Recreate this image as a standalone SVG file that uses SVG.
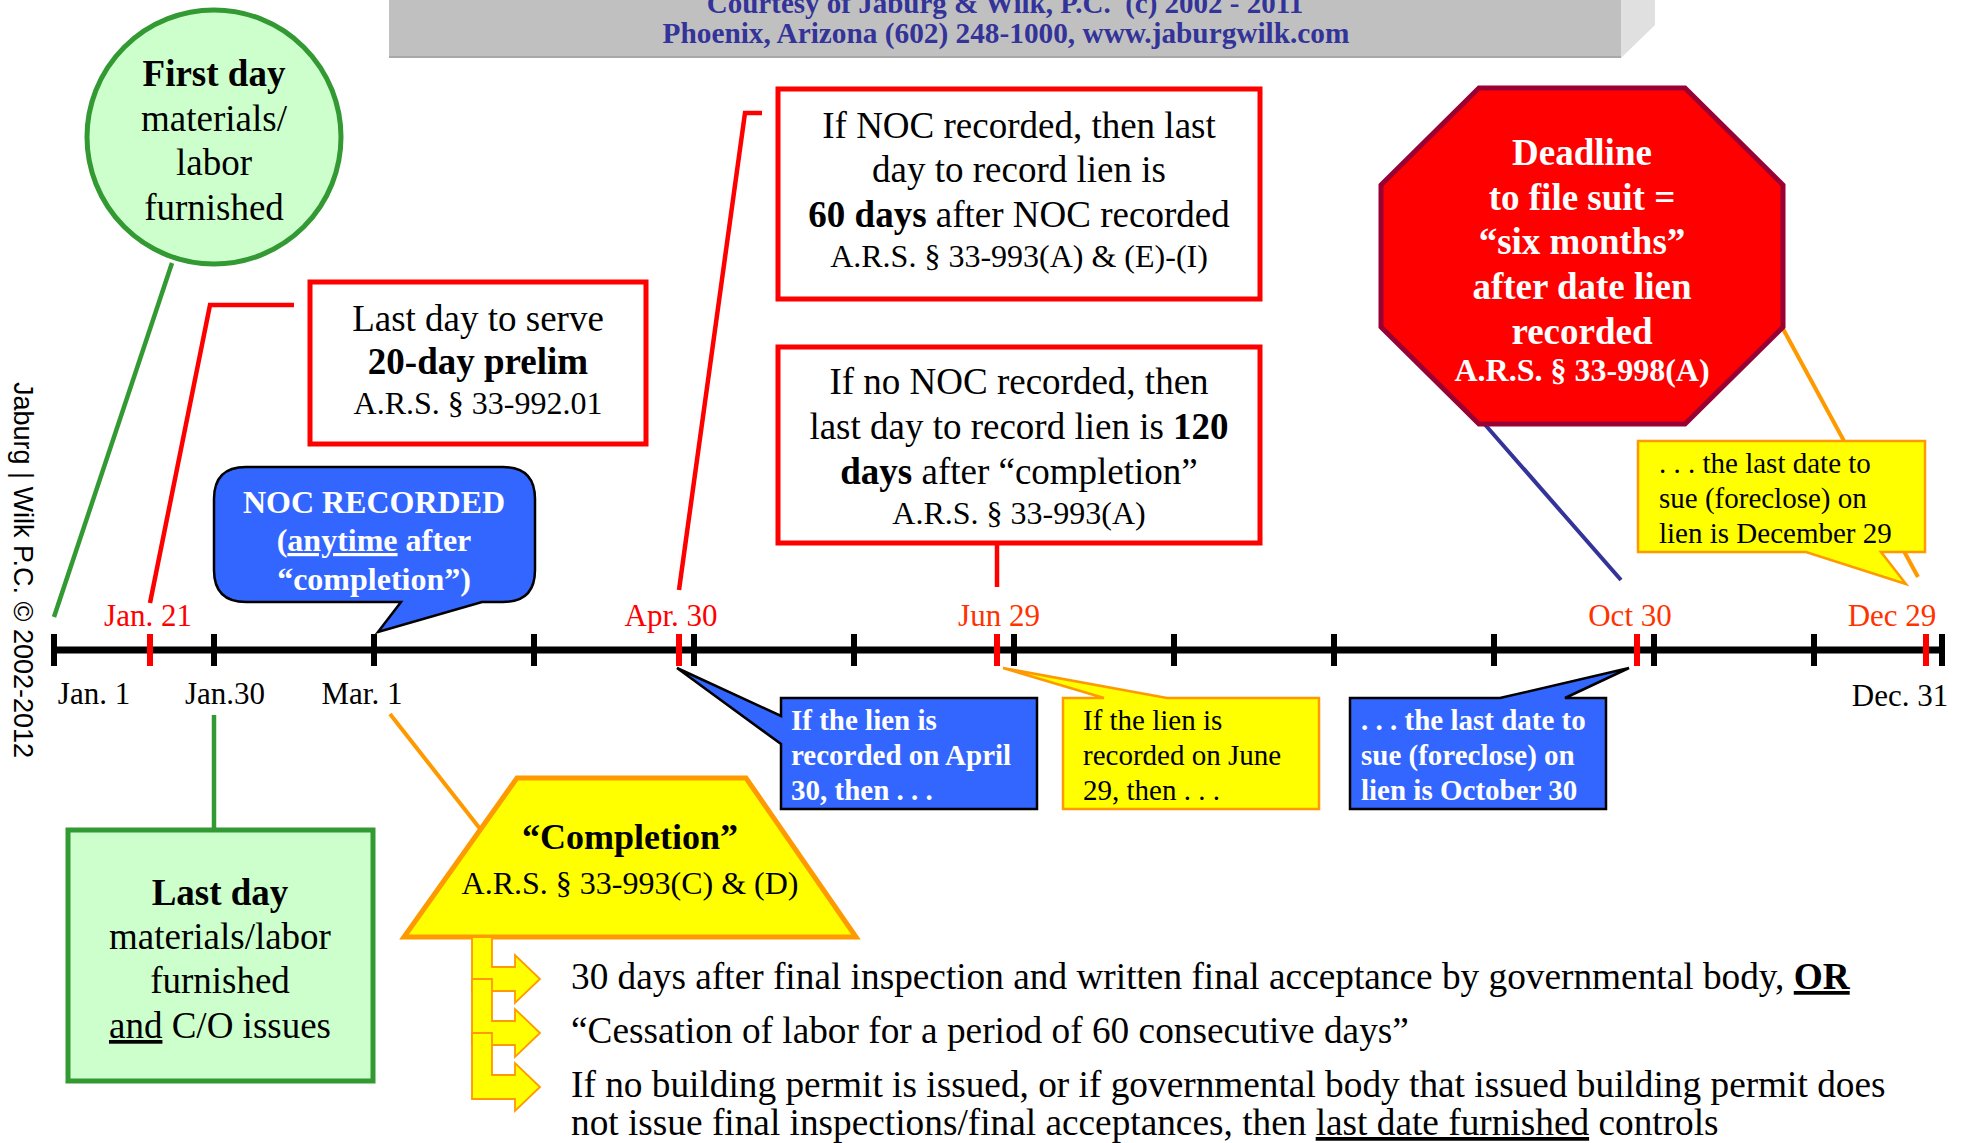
<svg xmlns="http://www.w3.org/2000/svg" width="1967" height="1143" viewBox="0 0 1967 1143">
<style>
text{font-family:"Liberation Serif","Times New Roman",serif;fill:#000}
.b{font-weight:bold}
.w{fill:#fff}
.c{text-anchor:middle}
.f37{font-size:37px}
.f36{font-size:36px}
.f32{font-size:32px}
.f31{font-size:31px}
.f29{font-size:29px}
.item{font-size:37.3px}
.hdr{font-size:29px;font-weight:bold;fill:#333399;text-anchor:middle}
.red{fill:#ff0000}
.red2{fill:#ff3300}
.u{text-decoration:underline}
.redbox{fill:#fff;stroke:#ff0000;stroke-width:5}
.greenbox{fill:#ccffcc;stroke:#339933;stroke-width:5}
.blueco{fill:#3366ff;stroke:#000;stroke-width:2.5;stroke-linejoin:miter}
.yelco{fill:#ffff00;stroke:#ff9900;stroke-width:2.5}
.tick{stroke:#000;stroke-width:6}
.rtick{stroke:#ff0000;stroke-width:6}
.arrow{fill:#ffff00;stroke:#ff9900;stroke-width:1.8}
</style>

<g id="header">
<rect x="389" y="-5" width="1232" height="63" fill="#c0c0c0"/>
<line x1="389" y1="57" x2="1621" y2="57" stroke="#a8a8a8" stroke-width="2"/>
<polygon points="1621,0 1655,0 1655,25 1621,58" fill="#e0e0e0"/>
<text class="hdr" x="1005" y="13">Courtesy of Jaburg &amp; Wilk, P.C.&#160; (c) 2002 - 2011</text>
<text class="hdr" x="1006" y="43" style="font-size:29.3px">Phoenix, Arizona (602) 248-1000, www.jaburgwilk.com</text>
</g>

<g id="watermark">
<text x="14" y="570" transform="rotate(90 14 570)" style="font-family:'Liberation Sans',Arial,sans-serif;font-size:27px" text-anchor="middle">Jaburg | Wilk P.C. © 2002-2012</text>
</g>

<g id="connectors" fill="none">
<line x1="172" y1="263" x2="54" y2="617" stroke="#339933" stroke-width="4.5"/>
<polyline points="150,603 210,305 294,305" stroke="#ff0000" stroke-width="4.5"/>
<polyline points="679,590 745,113 762,113" stroke="#ff0000" stroke-width="4.5"/>
<line x1="997" y1="543" x2="997" y2="587" stroke="#ff0000" stroke-width="4.5"/>
<line x1="1481" y1="420" x2="1621" y2="580" stroke="#333399" stroke-width="4"/>
<line x1="1782" y1="327" x2="1918" y2="577" stroke="#ff9900" stroke-width="4"/>
<line x1="390" y1="714" x2="481" y2="830" stroke="#ff9900" stroke-width="4"/>
<line x1="214" y1="715" x2="214" y2="830" stroke="#339933" stroke-width="4.5"/>
</g>

<g id="first-day">
<circle cx="214" cy="137" r="127" fill="#ccffcc" stroke="#339933" stroke-width="5"/>
<text class="c f37 b" x="214" y="86">First day</text>
<text class="c f37" x="214" y="131">materials/</text>
<text class="c f37" x="214" y="175">labor</text>
<text class="c f37" x="214" y="220">furnished</text>
</g>

<g id="prelim">
<rect class="redbox" x="310" y="282" width="336" height="162"/>
<text class="c f37" x="478" y="331">Last day to serve</text>
<text class="c f37 b" x="478" y="374">20-day prelim</text>
<text class="c f32" x="478" y="414">A.R.S. § 33-992.01</text>
</g>

<g id="noc-recorded">
<rect class="redbox" x="778" y="89" width="482" height="210"/>
<text class="c f37" x="1019" y="138">If NOC recorded, then last</text>
<text class="c f37" x="1019" y="182">day to record lien is</text>
<text class="c f37" x="1019" y="227"><tspan class="b">60 days</tspan> after NOC recorded</text>
<text class="c f32" x="1019" y="267">A.R.S. § 33-993(A) &amp; (E)-(I)</text>
</g>

<g id="no-noc">
<rect class="redbox" x="778" y="347" width="482" height="196"/>
<text class="c f37" x="1019" y="394">If no NOC recorded, then</text>
<text class="c f37" x="1019" y="439">last day to record lien is <tspan class="b">120</tspan></text>
<text class="c f37" x="1019" y="484"><tspan class="b">days</tspan> after “completion”</text>
<text class="c f32" x="1019" y="524">A.R.S. § 33-993(A)</text>
</g>

<g id="deadline">
<polygon points="1479,88 1685,88 1783,185 1783,327 1685,424 1479,424 1381,327 1381,185" fill="#ff0000" stroke="#990033" stroke-width="5"/>
<text class="c f37 b w" x="1582" y="165">Deadline</text>
<text class="c f37 b w" x="1582" y="210">to file suit =</text>
<text class="c f37 b w" x="1582" y="254">“six months”</text>
<text class="c f37 b w" x="1582" y="299">after date lien</text>
<text class="c f37 b w" x="1582" y="344">recorded</text>
<text class="c f32 b w" x="1582" y="381">A.R.S. § 33-998(A)</text>
</g>

<g id="callout-dec29">
<path class="yelco" d="M1638,441 H1925 V552 H1881 L1906,584 L1806,552 H1638 Z"/>
<text class="f29" x="1659" y="473">. . . the last date to</text>
<text class="f29" x="1659" y="508">sue (foreclose) on</text>
<text class="f29" x="1659" y="543">lien is December 29</text>
</g>

<g id="noc-bubble">
<path class="blueco" d="M246,467 H503 Q535,467 535,499 V570 Q535,602 503,602 H482 L378,632 L401,602 H246 Q214,602 214,570 V499 Q214,467 246,467 Z"/>
<text class="c f32 b w" x="374" y="513">NOC RECORDED</text>
<text class="c f32 b w" x="374" y="551">(<tspan class="u">anytime</tspan> after</text>
<text class="c f32 b w" x="374" y="590">“completion”)</text>
</g>

<g id="timeline">
<line x1="53" y1="650" x2="1945" y2="650" stroke="#000" stroke-width="7"/>
<line class="tick" x1="54" y1="634" x2="54" y2="666"/>
<line class="tick" x1="214" y1="634" x2="214" y2="666"/>
<line class="tick" x1="374" y1="634" x2="374" y2="666"/>
<line class="tick" x1="534" y1="634" x2="534" y2="666"/>
<line class="tick" x1="694" y1="634" x2="694" y2="666"/>
<line class="tick" x1="854" y1="634" x2="854" y2="666"/>
<line class="tick" x1="1014" y1="634" x2="1014" y2="666"/>
<line class="tick" x1="1174" y1="634" x2="1174" y2="666"/>
<line class="tick" x1="1334" y1="634" x2="1334" y2="666"/>
<line class="tick" x1="1494" y1="634" x2="1494" y2="666"/>
<line class="tick" x1="1654" y1="634" x2="1654" y2="666"/>
<line class="tick" x1="1814" y1="634" x2="1814" y2="666"/>
<line class="tick" x1="1942" y1="634" x2="1942" y2="666"/>
<line class="rtick" x1="150" y1="634" x2="150" y2="666"/>
<line class="rtick" x1="679" y1="634" x2="679" y2="666"/>
<line class="rtick" x1="997" y1="634" x2="997" y2="666"/>
<line class="rtick" x1="1637" y1="634" x2="1637" y2="666"/>
<line class="rtick" x1="1926" y1="634" x2="1926" y2="666"/>
<text class="c f31 red" x="148" y="626">Jan. 21</text>
<text class="c f31 red" x="671" y="626">Apr. 30</text>
<text class="c f31 red2" x="999" y="626">Jun 29</text>
<text class="c f31 red2" x="1630" y="626">Oct 30</text>
<text class="c f31 red2" x="1892" y="626">Dec 29</text>
<text class="c f31" x="94" y="704">Jan. 1</text>
<text class="c f31" x="225" y="704">Jan.30</text>
<text class="c f31" x="362" y="704">Mar. 1</text>
<text class="c f31" x="1900" y="706">Dec. 31</text>
</g>

<g id="callout-apr30">
<path class="blueco" d="M781,698 H1037 V809 H781 V744 L677,668 L781,716 Z"/>
<text class="f29 b w" x="791" y="730">If the lien is</text>
<text class="f29 b w" x="791" y="765">recorded on April</text>
<text class="f29 b w" x="791" y="800">30, then . . .</text>
</g>

<g id="callout-jun29">
<path class="yelco" d="M1063,698 H1104 L1003,668 L1167,698 H1319 V809 H1063 Z"/>
<text class="f29" x="1083" y="730">If the lien is</text>
<text class="f29" x="1083" y="765">recorded on June</text>
<text class="f29" x="1083" y="800">29, then . . .</text>
</g>

<g id="callout-oct30">
<path class="blueco" d="M1350,698 H1500 L1629,668 L1565,698 H1606 V809 H1350 Z"/>
<text class="f29 b w" x="1361" y="730">. . . the last date to</text>
<text class="f29 b w" x="1361" y="765">sue (foreclose) on</text>
<text class="f29 b w" x="1361" y="800">lien is October 30</text>
</g>

<g id="last-day">
<rect class="greenbox" x="68" y="830" width="305" height="251"/>
<text class="c f37 b" x="220" y="905">Last day</text>
<text class="c f37" x="220" y="949">materials/labor</text>
<text class="c f37" x="220" y="993">furnished</text>
<text class="c f37" x="220" y="1038"><tspan class="u">and</tspan> C/O issues</text>
</g>

<g id="completion">
<polygon points="517,778 746,778 856,937 404,937" fill="#ffff00" stroke="#ff9900" stroke-width="5" stroke-linejoin="miter"/>
<text class="c f36 b" x="630" y="849">“Completion”</text>
<text class="c f32" x="630" y="894">A.R.S. § 33-993(C) &amp; (D)</text>
</g>

<g id="completion-arrows">
<path class="arrow" d="M472,937 H492 V967 H515 V955 L540,979 L515,1003 V991 H472 Z"/>
<path class="arrow" d="M472,979 H492 V1021 H515 V1009 L540,1033 L515,1057 V1045 H472 Z"/>
<path class="arrow" d="M472,1033 H492 V1075 H515 V1063 L540,1087 L515,1111 V1099 H472 Z"/>
</g>

<g id="completion-items">
<text class="item" x="571" y="989">30 days after final inspection and written final acceptance by governmental body, <tspan class="b u">OR</tspan></text>
<text class="item" x="571" y="1043">“Cessation of labor for a period of 60 consecutive days”</text>
<text class="item" x="571" y="1097">If no building permit is issued, or if governmental body that issued building permit does</text>
<text class="item" x="571" y="1135">not issue final inspections/final acceptances, then <tspan class="u">last date furnished</tspan> controls</text>
</g>
</svg>
